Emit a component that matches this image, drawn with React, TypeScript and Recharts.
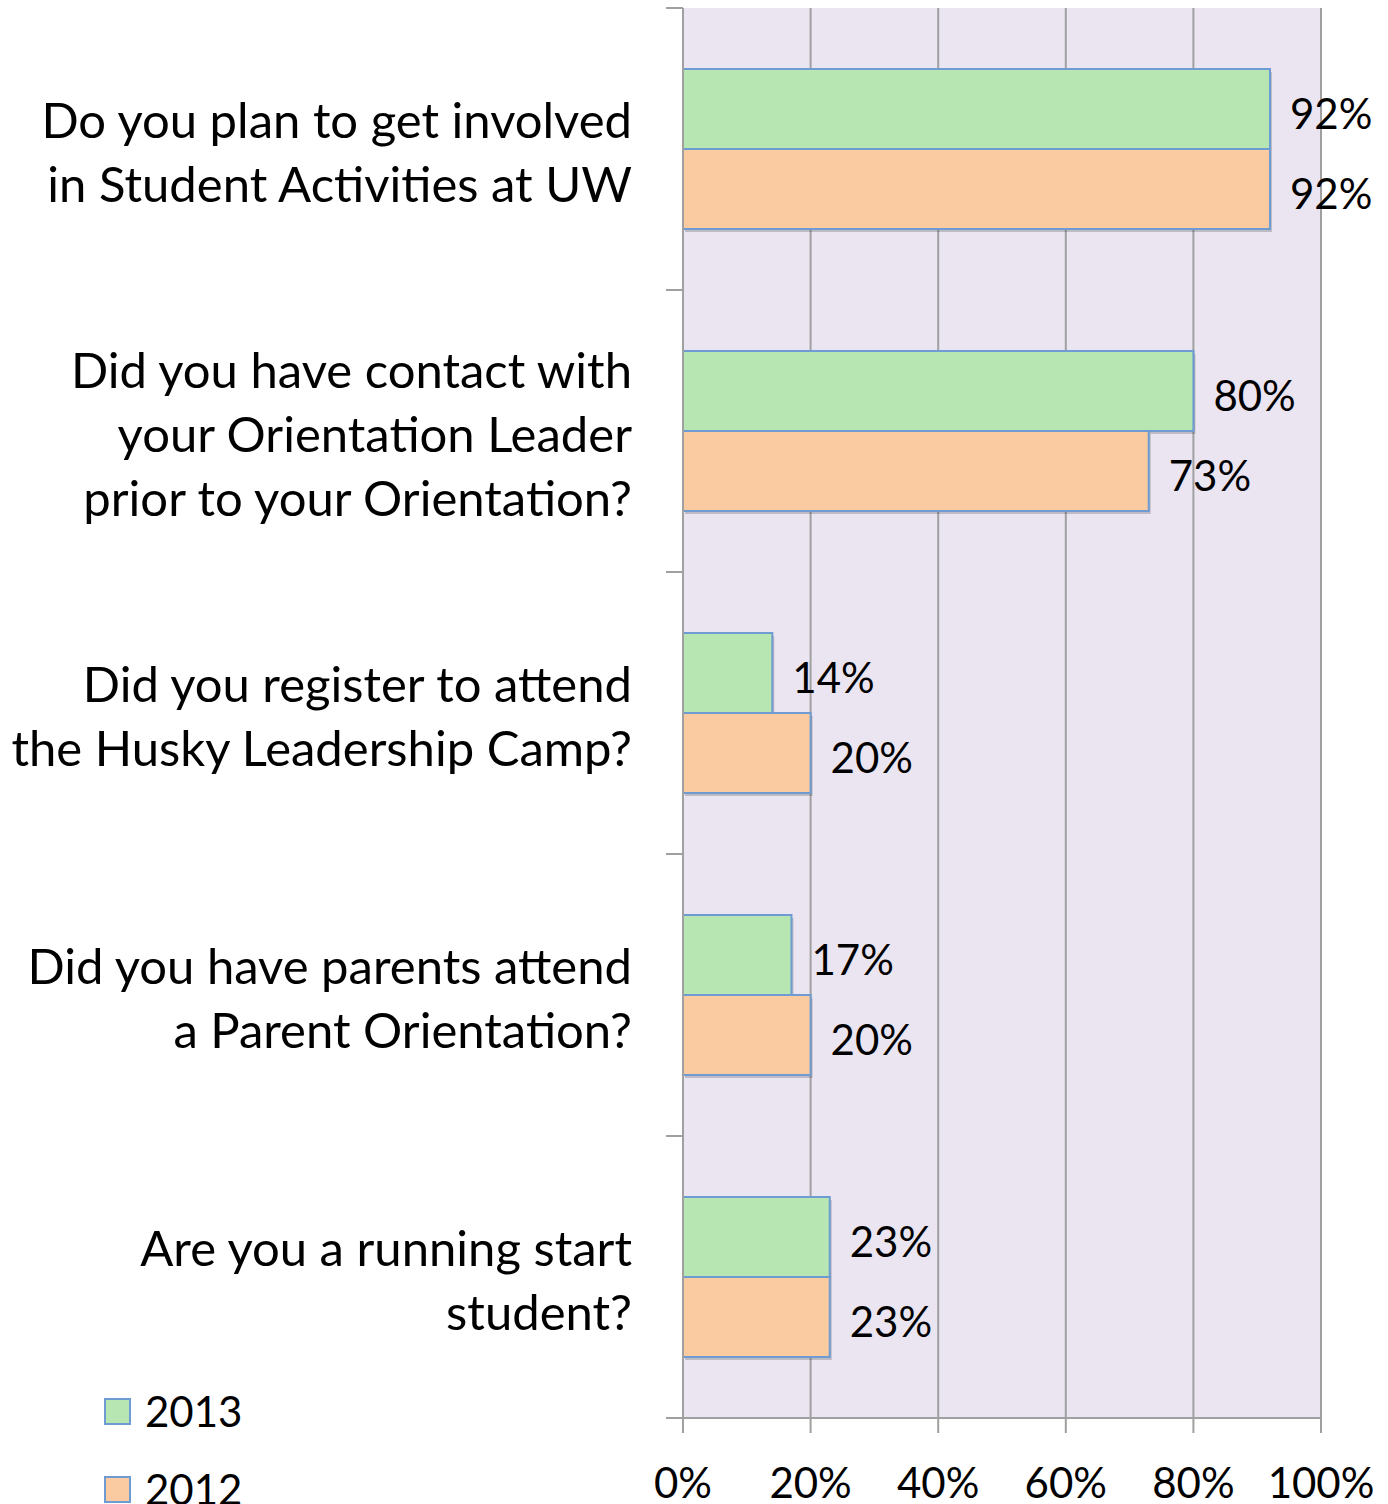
import React from 'react';
import { BarChart, Bar, XAxis, YAxis, CartesianGrid, LabelList, Legend } from 'recharts';

const categories = [
  'Do you plan to get involved in Student Activities at UW',
  'Did you have contact with your Orientation Leader prior to your Orientation?',
  'Did you register to attend the Husky Leadership Camp?',
  'Did you have parents attend a Parent Orientation?',
  'Are you a running start student?',
];
const categoryLines = [
  ['Do you plan to get involved', 'in Student Activities at UW'],
  ['Did you have contact with', 'your Orientation Leader', 'prior to your Orientation?'],
  ['Did you register to attend', 'the Husky Leadership Camp?'],
  ['Did you have parents attend', 'a Parent Orientation?'],
  ['Are you a running start', 'student?'],
];
const values2013 = [0.92, 0.8, 0.14, 0.17, 0.23];
const values2012 = [0.92, 0.73, 0.2, 0.2, 0.23];
const xTicks = [0, 0.2, 0.4, 0.6, 0.8, 1];
const seriesNames = ['2013', '2012'];

const data = categories.map((c, i) => ({
  name: c,
  lines: categoryLines[i],
  y2013: values2013[i],
  y2012: values2012[i],
}));

const W = 1388;
const H = 1504;
const X_AXIS_H = 86;
const M = { top: 8, right: 67, bottom: 0, left: 0 };
const Y_AXIS_W = 683;
const PLOT_H = H - M.top - M.bottom - X_AXIS_H;
const HALF_BAND = PLOT_H / categories.length / 2;
const FONT = 'Lato, "Open Sans", sans-serif';
const GREEN = '#B8E6B2';
const ORANGE = '#FACBA1';
const BORDER = '#6D9BD2';
const GRID = '#A0A0A0';
const BG = '#EAE5F0';
const TICK = 17;
const TICK_MARGIN = 34;

const pct = (v: number) => `${Math.round(v * 100)}%`;

const YTick = (props: any) => {
  const { x, y, payload, index } = props;
  const lines: string[] = categoryLines[index] || [payload.value];
  const n = lines.length;
  const axisX = x + TICK + TICK_MARGIN;
  return (
    <g>
      <line x1={axisX - TICK} x2={axisX} y1={y - HALF_BAND} y2={y - HALF_BAND} stroke={GRID} strokeWidth={2} />
      {index === categories.length - 1 && (
        <line x1={axisX - TICK} x2={axisX} y1={y + HALF_BAND} y2={y + HALF_BAND} stroke={GRID} strokeWidth={2} />
      )}
      <text x={x} y={y} textAnchor="end" fontFamily={FONT} fontSize={49} fill="#000">
        {lines.map((l, i) => (
          <tspan key={i} x={x} y={y + (i - (n - 1) / 2) * 64 + 2} dominantBaseline="central">
            {l}
          </tspan>
        ))}
      </text>
    </g>
  );
};

const XTick = (props: any) => {
  const { x, y, payload } = props;
  return (
    <text x={x} y={y + 47} textAnchor="middle" dominantBaseline="central" fontFamily={FONT} fontSize={42} fill="#000">
      {pct(payload.value)}
    </text>
  );
};

const ValueLabel = (props: any) => {
  const { x, y, width, height, value } = props;
  return (
    <text x={x + width + 20} y={y + height / 2 + 4} textAnchor="start" dominantBaseline="central" fontFamily={FONT} fontSize={42} fill="#000">
      {pct(value)}
    </text>
  );
};

const ShadowBar = (props: any) => {
  const { x, y, width, height, fill } = props;
  if (!width || width <= 0) return null;
  return (
    <g>
      <rect x={x + 2} y={y + 3} width={width} height={height} fill="rgba(0,0,0,0.18)" />
      <rect x={x} y={y} width={width} height={height} fill={fill} stroke={BORDER} strokeWidth={2} />
    </g>
  );
};

const LegendContent = () => {
  const colors = [GREEN, ORANGE];
  return (
    <div style={{ fontFamily: FONT, fontSize: 42, color: '#000' }}>
      {seriesNames.map((s, i) => (
        <div key={s} style={{ display: 'flex', alignItems: 'center', height: 78 }}>
          <div style={{ width: 23, height: 23, background: colors[i], border: `2px solid ${BORDER}`, marginRight: 14 }} />
          <span>{s}</span>
        </div>
      ))}
    </div>
  );
};

export default function App() {
  return (
    <div style={{ position: 'absolute', left: 0, top: 0, width: W, height: H, background: '#fff' }}>
      <BarChart width={W} height={H} data={data} layout="vertical" margin={M} barGap={0} barSize={80}>
        <CartesianGrid horizontal={false} vertical={true} stroke={GRID} strokeWidth={2} fill={BG} fillOpacity={1} />
        <XAxis
          type="number"
          domain={[0, 1]}
          ticks={xTicks}
          tickFormatter={pct}
          stroke={GRID}
          strokeWidth={2}
          tickSize={15}
          height={X_AXIS_H}
          tick={<XTick />}
          interval={0}
        />
        <YAxis
          type="category"
          dataKey="name"
          width={Y_AXIS_W}
          stroke={GRID}
          strokeWidth={2}
          tickLine={false}
          tickSize={TICK}
          tickMargin={TICK_MARGIN}
          tick={<YTick />}
          interval={0}
        />
        <Legend
          layout="vertical"
          align="center"
          verticalAlign="middle"
          content={<LegendContent />}
          wrapperStyle={{ position: 'absolute', left: 104, top: 1372, width: 200 }}
        />
        <Bar dataKey="y2013" name="2013" fill={GREEN} isAnimationActive={false} shape={<ShadowBar />}>
          <LabelList dataKey="y2013" content={<ValueLabel />} />
        </Bar>
        <Bar dataKey="y2012" name="2012" fill={ORANGE} isAnimationActive={false} shape={<ShadowBar />}>
          <LabelList dataKey="y2012" content={<ValueLabel />} />
        </Bar>
      </BarChart>
    </div>
  );
}
